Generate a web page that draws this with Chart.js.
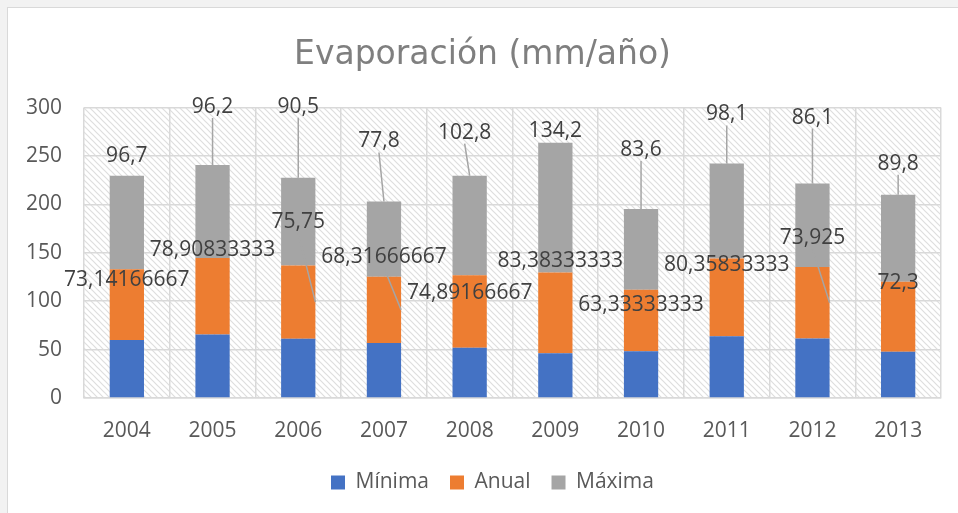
<!DOCTYPE html>
<html>
<head>
<meta charset="utf-8">
<script src="https://cdn.jsdelivr.net/npm/chart.js@4.4.1/dist/chart.umd.min.js"></script>
<style>
    html, body { margin: 0; padding: 0; background: #f2f2f2; overflow: hidden; }
    .frame {
        position: absolute; left: 7px; top: 7px; width: 960px; height: 520px;
        background: #ffffff; border-top: 1px solid #d9d9d9; border-left: 1px solid #d9d9d9;
    }
    #evapChart { position: absolute; left: 0; top: 0; }
</style>
</head>
<body>
<div class="frame">
    <canvas id="evapChart" width="950" height="506"></canvas>
</div>
<script>
// Chart data
const years = ['2004', '2005', '2006', '2007', '2008', '2009', '2010', '2011', '2012', '2013'];
const minima = [59.8, 65.6, 61.2, 56.9, 52.0, 46.2, 48.4, 63.8, 61.5, 47.9];
const anual = [73.14166667, 78.90833333, 75.75, 68.31666667, 74.89166667, 83.38333333, 63.33333333, 80.35833333, 73.925, 72.3];
const maxima = [96.7, 96.2, 90.5, 77.8, 102.8, 134.2, 83.6, 98.1, 86.1, 89.8];
const yTicks = [0, 50, 100, 150, 200, 250, 300];

// Label placement (pixel offsets from the segment top), as moved by hand in the original
const maxLabelDx = [0, 0, 0, -5, -5, 0, 0, 0, 0, 0];
const maxLabelDy = [-23, -61, -74, -63, -46, -15, -62, -52, -69, -34];
const maxLeader = [0, 1, 1, 1, 1, 0, 1, 1, 1, 1];
const anualLabelDx = [0, 0, 0, 0, 0, 5, 0, 0, 0, 0];
const anualLabelDy = [8, -11, -46, -23, 15, -15, 12, 4, -32, -2];
const anualLeader = [0, 0, 1, 1, 0, 0, 0, 0, 1, 0];

const FONT = "'Open Sans', sans-serif";
const LABEL_SHIFT = 3; // 'middle' baseline sits a little high for digits

// Diagonal hatch used behind the plot area
function makeHatch(ctx) {
    const tile = document.createElement('canvas');
    tile.width = 6;
    tile.height = 6;
    const g = tile.getContext('2d');
    g.fillStyle = '#ffffff';
    g.fillRect(0, 0, 6, 6);
    g.strokeStyle = '#dedede';
    g.lineWidth = 1.2;
    g.beginPath();
    g.moveTo(-1, -1); g.lineTo(7, 7);
    g.moveTo(-1, 5); g.lineTo(1, 7);
    g.moveTo(5, -1); g.lineTo(7, 1);
    g.stroke();
    return ctx.createPattern(tile, 'repeat');
}

const hatchBackground = {
    id: 'hatchBackground',
    beforeDraw(chart) {
        const {ctx, chartArea: a} = chart;
        ctx.save();
        ctx.fillStyle = makeHatch(ctx);
        ctx.fillRect(a.left, a.top, a.right - a.left, a.bottom - a.top);
        ctx.restore();
    }
};

// legend in the original sits a bit right of the title
const legendNudge = {
    id: 'legendNudge',
    afterLayout(chart) {
        if (chart.legend) {
            chart.legend.left += 10;
            chart.legend.right += 10;
        }
    }
};

function fmt(v) {
    return String(v).replace('.', ',');
}

const segmentLabels = {
    id: 'segmentLabels',
    afterDatasetsDraw(chart) {
        const ctx = chart.ctx;
        const anualMeta = chart.getDatasetMeta(1);
        const maxMeta = chart.getDatasetMeta(2);
        ctx.save();
        ctx.font = '21px ' + FONT;
        ctx.textAlign = 'center';
        ctx.textBaseline = 'middle';

        // leader lines first
        ctx.strokeStyle = '#a5a5a5';
        ctx.lineWidth = 1.5;
        years.forEach((y, i) => {
            const mb = maxMeta.data[i];
            if (maxLeader[i]) {
                const lx = mb.x + maxLabelDx[i];
                const ly = mb.y + maxLabelDy[i];
                ctx.beginPath();
                ctx.moveTo(lx, ly + 14);
                ctx.lineTo(mb.x, mb.y);
                ctx.stroke();
            }
            const ab = anualMeta.data[i];
            if (anualLeader[i]) {
                const lx = ab.x + anualLabelDx[i];
                const ly = ab.y + anualLabelDy[i];
                ctx.beginPath();
                ctx.moveTo(lx, ly + 14);
                ctx.lineTo(ab.x + ab.width / 2, (ab.y + ab.base) / 2);
                ctx.stroke();
            }
        });

        ctx.fillStyle = '#404040';
        years.forEach((y, i) => {
            const mb = maxMeta.data[i];
            ctx.fillText(fmt(maxima[i]), mb.x + maxLabelDx[i], mb.y + maxLabelDy[i] + LABEL_SHIFT);
            const ab = anualMeta.data[i];
            ctx.fillText(fmt(anual[i]), ab.x + anualLabelDx[i], ab.y + anualLabelDy[i] + LABEL_SHIFT);
        });
        ctx.restore();
    }
};

const ctx = document.getElementById('evapChart').getContext('2d');
const evapChart = new Chart(ctx, {
    type: 'bar',
    data: {
        labels: years,
        datasets: [
            { label: 'Mínima', data: minima, backgroundColor: '#4472c4' },
            { label: 'Anual', data: anual, backgroundColor: '#ed7d31' },
            { label: 'Máxima', data: maxima, backgroundColor: '#a5a5a5' }
        ]
    },
    options: {
        responsive: false,
        animation: false,
        categoryPercentage: 0.8,
        barPercentage: 0.5,
        layout: {
            padding: { left: 16, right: 17, top: 0, bottom: 11 }
        },
        plugins: {
            title: {
                display: true,
                text: 'Evaporación (mm/año)',
                color: '#7f7f7f',
                font: { family: "'DejaVu Sans', sans-serif", size: 33, weight: 'normal' },
                padding: { top: 28, bottom: 32 }
            },
            legend: {
                position: 'bottom',
                labels: {
                    color: '#595959',
                    font: { family: FONT, size: 21 },
                    boxWidth: 14,
                    boxHeight: 14,
                    padding: 21
                }
            },
            tooltip: { enabled: false }
        },
        scales: {
            x: {
                stacked: true,
                grid: { color: '#d9d9d9', lineWidth: 1.5, drawTicks: false, offset: true },
                border: { color: '#d9d9d9', width: 1.5 },
                ticks: {
                    color: '#595959',
                    font: { family: FONT, size: 21 },
                    padding: 20
                },
                afterFit(scale) { scale.height = 53; }
            },
            y: {
                stacked: true,
                min: 0,
                max: 300,
                grid: { color: '#d9d9d9', lineWidth: 1.5, drawTicks: false },
                border: { display: false },
                afterBuildTicks(scale) { scale.ticks = yTicks.map(v => ({ value: v })); },
                ticks: {
                    color: '#595959',
                    font: { family: FONT, size: 21 },
                    padding: 22
                },
                afterFit(scale) { scale.width = 60; }
            }
        }
    },
    plugins: [hatchBackground, legendNudge, segmentLabels]
});
</script>
</body>
</html>
